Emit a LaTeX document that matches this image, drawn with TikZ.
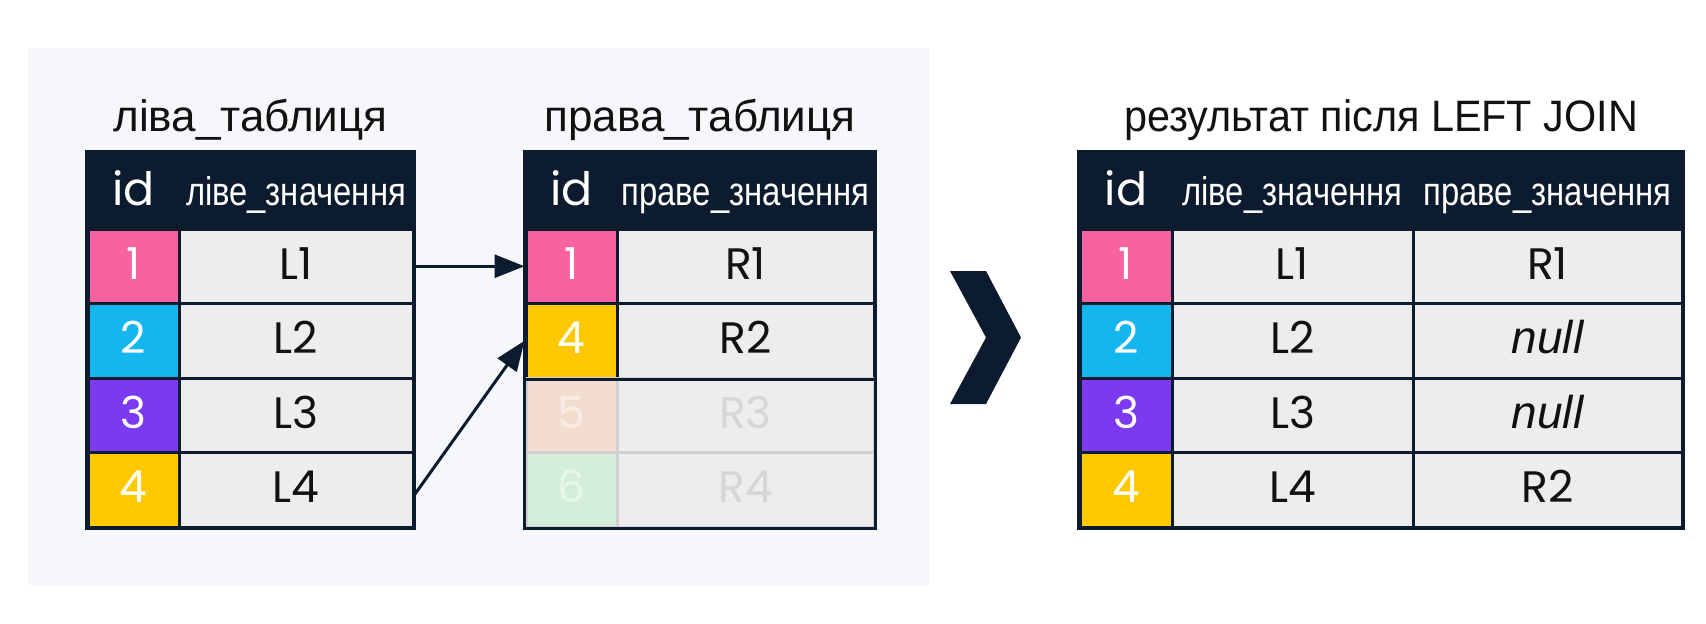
\documentclass[tikz,border=0pt]{standalone}
\usepackage{fontspec}
\setmainfont{Liberation Sans}
\newfontfamily\valfont{Poppins}
\newfontfamily\headfont{Liberation Sans}[FakeStretch=0.82]
\newfontfamily\restitlefont{Liberation Sans}[FakeStretch=0.94]
\usetikzlibrary{arrows.meta, positioning}

\definecolor{navy}{HTML}{0C1B2E}
\definecolor{cellgrey}{HTML}{EDEDED}
\definecolor{pink}{HTML}{F7639F}
\definecolor{cyan}{HTML}{14B6F0}
\definecolor{purple}{HTML}{7B3AF0}
\definecolor{amber}{HTML}{FFC800}
\definecolor{peach}{HTML}{F3DDCF}
\definecolor{mint}{HTML}{D3EFD9}
\definecolor{fadeline}{HTML}{D0D0D0}
\definecolor{fadetext}{HTML}{D6D6D6}
\definecolor{panel}{HTML}{F6F7FB}
\definecolor{ink}{HTML}{111111}

\newcommand{\nullval}{{\rmfamily\itshape\fontsize{46}{46}\selectfont null}}

\begin{document}
\begin{tikzpicture}[x=1pt, y=-1pt]
    % Styles
    \tikzstyle{title} = [anchor=base, inner sep=0pt, text=ink, font={\rmfamily\fontsize{44}{48}\selectfont}]
    \tikzstyle{hdr} = [rectangle, draw=navy, fill=navy, line width=3pt, text=white, inner sep=0pt, minimum height=76pt, text height=28pt, text depth=0pt, font={\headfont\fontsize{40}{40}\selectfont}]
    \tikzstyle{idhdr} = [hdr, font={\valfont\fontsize{46}{46}\selectfont}]
    \tikzstyle{cell} = [rectangle, draw=navy, line width=3pt, fill=cellgrey, text=ink, inner sep=0pt, minimum height=74.5pt, text height=26pt, text depth=0pt, font={\valfont\fontsize{44}{44}\selectfont}]
    \tikzstyle{idcell} = [cell, text=white]
    \tikzstyle{fadecell} = [cell, draw=fadeline, text=fadetext]
    \tikzstyle{fadeid} = [fadecell, text=white, text opacity=0.45]
    \tikzstyle{frame} = [draw=navy, line width=3pt]
    \tikzstyle{line} = [draw=navy, line width=3pt, -{Triangle[length=30pt, width=23pt]}]

    \useasboundingbox (0,0) rectangle (1706,624);
    \fill [panel] (28,48) rectangle (929,585);

    % Titles
    \node [title] (l-title) at (250.5,131) {ліва\_таблиця};
    \node [title] (r-title) at (700,131) {права\_таблиця};
    \node [title, font={\restitlefont\fontsize{44}{48}\selectfont}] (res-title) at (1381,131) {результат після LEFT JOIN};

    % Left table
    \node [idhdr, minimum width=91pt] (l-hdr-id) at (133.5,191) {id};
    \node [hdr, minimum width=234pt] (l-hdr-val) at (296,191) {ліве\_значення};
    \foreach \i/\c in {1/pink, 2/cyan, 3/purple, 4/amber} {
        \node [idcell, fill=\c, minimum width=91pt] (l-id-\i) at (133.5,191.75+74.5*\i) {\i};
        \node [cell, minimum width=234pt] (l-val-\i) at (296,191.75+74.5*\i) {L\i};
    }
    \draw [frame] (l-hdr-id.north west) rectangle (l-val-4.south east);

    % Right table
    \node [idhdr, minimum width=91pt] (r-hdr-id) at (571.5,191) {id};
    \node [hdr, minimum width=257pt] (r-hdr-val) at (745.5,191) {праве\_значення};
    \node [idcell, fill=pink, minimum width=91pt] (r-id-1) at (571.5,266.25) {1};
    \node [cell, minimum width=257pt] (r-val-1) at (745.5,266.25) {R1};
    \node [idcell, fill=amber, minimum width=91pt] (r-id-2) at (571.5,340.75) {4};
    \node [cell, minimum width=257pt] (r-val-2) at (745.5,340.75) {R2};
    \node [fadeid, fill=peach, minimum width=91pt] (r-id-3) at (571.5,415.25) {5};
    \node [fadecell, minimum width=257pt] (r-val-3) at (745.5,415.25) {R3};
    \node [fadeid, fill=mint, minimum width=91pt] (r-id-4) at (571.5,489.75) {6};
    \node [fadecell, minimum width=257pt] (r-val-4) at (745.5,489.75) {R4};
    \draw [frame] (r-id-2.south west) -- (r-val-2.south east);
    \draw [frame] (r-hdr-id.north west) rectangle (r-val-4.south east);

    % Arrow between the panels
    \fill [navy] (950,271) -- (986,271) -- (1021,337.5) -- (986,404) -- (950,404) -- (986,337.5) -- cycle;

    % Result table
    \node [idhdr, minimum width=92pt] (res-hdr-id) at (1126,191) {id};
    \node [hdr, minimum width=241pt] (res-hdr-lval) at (1292.5,191) {ліве\_значення};
    \node [hdr, minimum width=269pt] (res-hdr-rval) at (1547.5,191) {праве\_значення};
    \foreach \i/\c/\r in {1/pink/R1, 2/cyan/\nullval, 3/purple/\nullval, 4/amber/R2} {
        \node [idcell, fill=\c, minimum width=92pt] (res-id-\i) at (1126,191.75+74.5*\i) {\i};
        \node [cell, minimum width=241pt] (res-lval-\i) at (1292.5,191.75+74.5*\i) {L\i};
        \node [cell, minimum width=269pt] (res-rval-\i) at (1547.5,191.75+74.5*\i) {\r};
    }
    \draw [frame] (res-hdr-id.north west) rectangle (res-rval-4.south east);

    % Connections
    \path [line] (l-val-1.east) -- (r-id-1.west);
    \path [line] ([yshift=-5pt]l-val-4.east) -- (r-id-2.west);

\end{tikzpicture}
\end{document}
